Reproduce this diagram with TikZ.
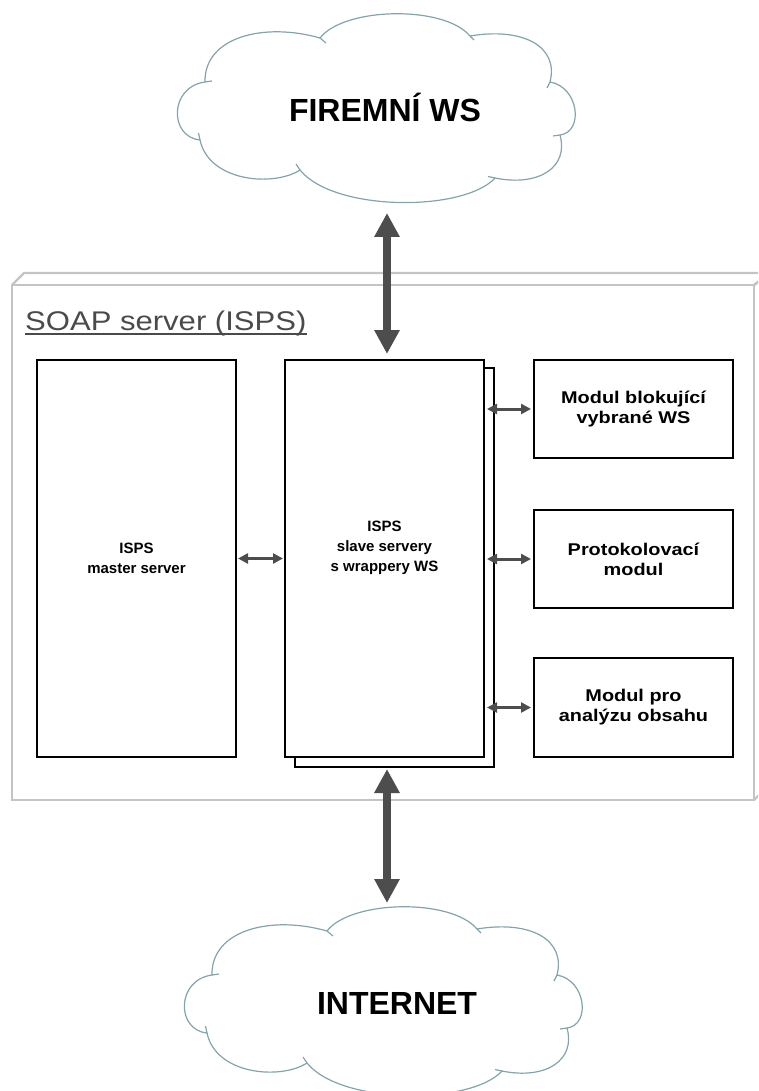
\documentclass[tikz,border=0pt]{standalone}
\usepackage{fontspec}
\setmainfont{Liberation Sans}
\newfontfamily\widesans[FakeStretch=1.15]{Liberation Sans}
\newfontfamily\modsans[FakeStretch=1.17]{Liberation Sans}
\usetikzlibrary{arrows.meta}

\definecolor{cloudcol}{HTML}{82A4AA}
\definecolor{framecol}{HTML}{C4C4C4}
\definecolor{arrowcol}{HTML}{4D4D4D}
\definecolor{titlecol}{HTML}{4A4A4A}

\tikzset{
  cloudline/.style={draw=cloudcol, line width=1.2pt, line join=round},
  frame/.style={draw=framecol, line width=2.4pt, line join=miter},
  box/.style={draw=black, line width=2pt, fill=white, rectangle, inner sep=0pt,
    minimum width=199pt, align=center, font=\fontsize{15}{20}\selectfont\bfseries},
  modbox/.style={box, font=\modsans\fontsize{17}{20}\selectfont\bfseries},
  bigarrow/.style={draw=arrowcol, line width=8pt,
    {Triangle[length=24pt,width=24pt]}-{Triangle[length=24pt,width=24pt]}},
  smallarrow/.style={draw=arrowcol, line width=3pt,
    {Triangle[length=10pt,width=10pt]}-{Triangle[length=10pt,width=10pt]}},
  cloudtext/.style={font=\fontsize{32}{36}\selectfont\bfseries},
  pics/cloudshape/.style={code={
    \draw[cloudline]
      (-169,-25) .. controls (-170,-70) and (-110,-85) .. (-54,-69)
      .. controls (-30,-100) and (70,-102) .. (96,-71)
      .. controls (150,-80) and (185,-60) .. (176,-25)
      .. controls (205,-20) and (210,25) .. (186,28)
      .. controls (195,60) and (165,80) .. (121,71)
      .. controls (90,105) and (-40,105) .. (-74,63)
      .. controls (-100,80) and (-165,75) .. (-174,33)
      .. controls (-205,30) and (-205,-20) .. (-169,-25);
    % small overhanging ends where the puffs meet
    \draw[cloudline] (-54,-69) -- ++(6,5);
    \draw[cloudline] (96,-71) -- ++(4,4);
    \draw[cloudline] (176,-25) -- ++(-3,6);
    \draw[cloudline] (186,28) -- ++(-7,1);
    \draw[cloudline] (121,71) -- ++(-7,-1.5);
    \draw[cloudline] (-74,63) -- ++(-4,-6);
    \draw[cloudline] (-174,33) -- ++(-1.5,-7);
    \draw[cloudline] (-169,-25) -- ++(7,-1);
  }}
}

\begin{document}
\begin{tikzpicture}[x=1pt, y=-1pt]
  \useasboundingbox (0,0) rectangle (758,1091);
  \clip (0,0) rectangle (758,1091);

  % outer SOAP server frame drawn as a flat 3D box
  \draw[frame] (12,285) -- (24,273) -- (770,273) -- (754,285);
  \draw[frame] (754,285) -- (770,273) -- (770,784) -- (754,800);
  \draw[frame] (12,285) rectangle (754,800);
  \node[anchor=base west, text=titlecol, font=\widesans\fontsize{27}{30}\selectfont, inner sep=0pt]
    (title) at (25,330) {SOAP server (ISPS)};
  \draw[titlecol, line width=1.5pt] (title.base west) ++(0,4) coordinate (ul)
    -- (ul -| title.base east);

  % clouds
  \pic at (374,107) {cloudshape};
  \node[cloudtext] (firmws) at (385,107) {FIREMNÍ WS};
  \coordinate (firmws-bot) at (387,213);

  \pic at (381,1000) {cloudshape};
  \node[cloudtext] (internet) at (397,1003) {INTERNET};
  \coordinate (internet-top) at (387,903);

  % servers
  \node[box, minimum height=397pt] (master) at (136.5,558.5) {ISPS\\master server};
  \node[box, minimum height=399pt] (slaveback) at (394.5,567.5) {};
  \node[box, minimum height=397pt] (slave) at (384.5,558.5) {};
  \node[align=center, font=\fontsize{15}{20}\selectfont\bfseries] (slavetext)
    at (384.5,548) {ISPS\\slave servery\\s wrappery WS};

  % modules
  \node[modbox, minimum height=98pt] (m1) at (633.5,409) {Modul blokující\\vybrané WS};
  \node[modbox, minimum height=98pt] (m2) at (633.5,559) {Protokolovací\\modul};
  \node[modbox, minimum height=99pt] (m3) at (633.5,707.5) {Modul pro\\analýzu obsahu};

  % connectors
  \draw[bigarrow, shorten >=5pt] (firmws-bot) -- (firmws-bot |- slave.north);
  \draw[bigarrow, shorten >=1pt] (internet-top) -- (internet-top |- slaveback.south);
  \draw[smallarrow, shorten <=1pt, shorten >=1pt] (master.east) -- (slave.west);
  \draw[smallarrow, shorten <=2pt, shorten >=2pt] (slave.east |- m1.west) -- (m1.west);
  \draw[smallarrow, shorten <=2pt, shorten >=2pt] (slave.east |- m2.west) -- (m2.west);
  \draw[smallarrow, shorten <=2pt, shorten >=2pt] (slave.east |- m3.west) -- (m3.west);
\end{tikzpicture}
\end{document}
